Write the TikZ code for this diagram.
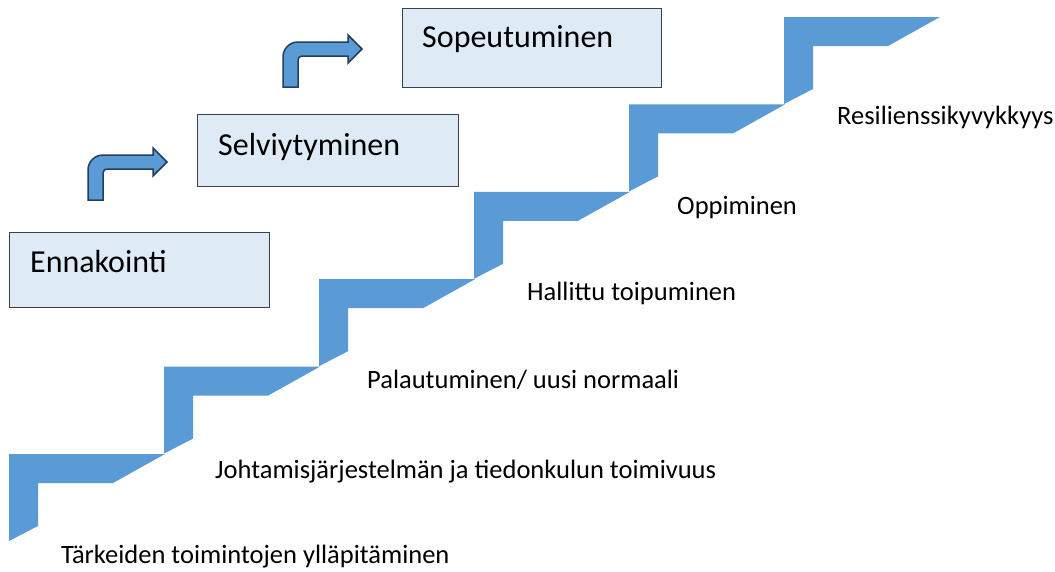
\documentclass[tikz,border=0pt]{standalone}
\usepackage{fontspec}
\setmainfont{Carlito}
\definecolor{stairblue}{HTML}{5B9BD5}
\definecolor{boxfill}{HTML}{DEEBF7}
\definecolor{boxline}{HTML}{404040}
\definecolor{arrline}{HTML}{223F5E}
\begin{document}
\begin{tikzpicture}[x=1pt,y=-1pt,
  stairstep/.style={fill=stairblue},
  phasebox/.style={draw=boxline,fill=boxfill,line width=1pt,anchor=north west,inner sep=0pt},
  phasetext/.style={anchor=base west,inner sep=0pt,font=\fontsize{32}{37}\selectfont},
  steplabel/.style={anchor=base west,inner sep=0pt,font=\fontsize{26.5}{31}\selectfont},
  bentarrow/.style={fill=stairblue,draw=arrline,line width=1.5pt,line join=miter}]
\useasboundingbox (0,0) rectangle (1055,571);
\fill[white] (0,0) rectangle (1055,571);
% staircase
\foreach \k in {0,...,5} {
  \fill[stairblue, shift={({9+155*\k},{454-87.4*\k})}]
    (0,0) -- (156,0) -- (104,29) -- (29,29) -- (29,72) -- (0,87) -- cycle;
}
% phase boxes
\node[phasebox,minimum width=260,minimum height=75] (enn) at (9,232) {};
\node[phasebox,minimum width=261,minimum height=72] (sel) at (197,114) {};
\node[phasebox,minimum width=259,minimum height=79] (sop) at (402,8) {};
\node[phasetext] (enntxt) at (30,272) {Ennakointi};
\node[phasetext] (seltxt) at (218,155) {Selviytyminen};
\node[phasetext] (soptxt) at (422,47) {Sopeutuminen};
% bent arrows
\foreach \dx/\dy in {0/0,195/-113} {
  \draw[bentarrow, shift={(\dx,\dy)}]
    (88,200) -- (88,170) .. controls (88,161.7) and (94.7,155) .. (103,155)
    -- (153,155) -- (153,148) -- (167,162) -- (153,176) -- (153,169)
    -- (107,169) .. controls (104.8,169) and (103,170.8) .. (103,173)
    -- (103,200) -- cycle;
}
% step labels
\node[steplabel] (l1) at (61,563) {Tärkeiden toimintojen ylläpitäminen};
\node[steplabel] (l2) at (215,478) {Johtamisjärjestelmän ja tiedonkulun toimivuus};
\node[steplabel] (l3) at (367,388) {Palautuminen/ uusi normaali};
\node[steplabel] (l4) at (527,300) {Hallittu toipuminen};
\node[steplabel] (l5) at (677,214) {Oppiminen};
\node[steplabel] (l6) at (837,124) {Resilienssikyvykkyys};
\end{tikzpicture}
\end{document}
